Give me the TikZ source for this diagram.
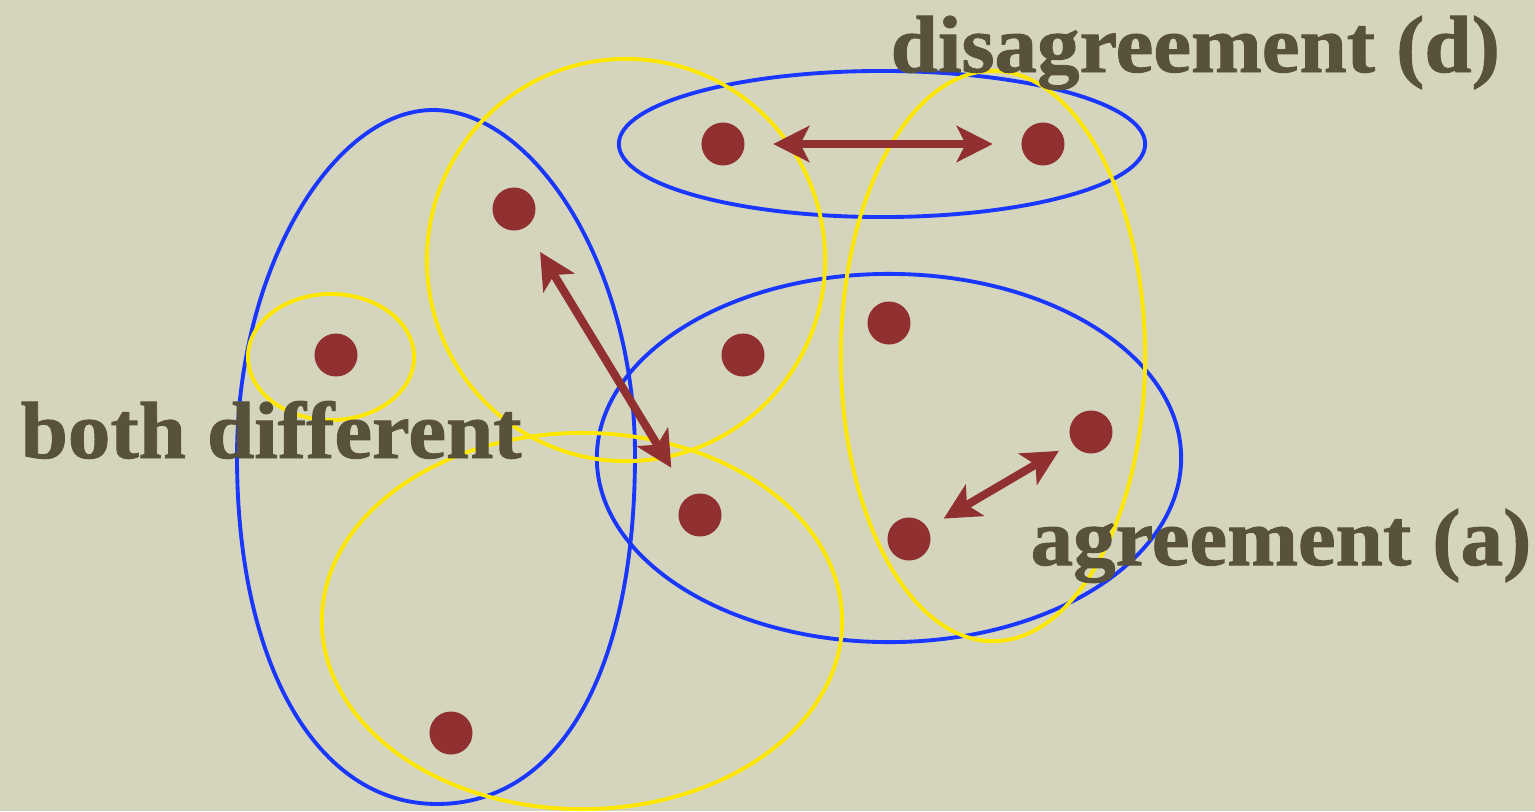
\documentclass[tikz,border=0pt]{standalone}
\usepackage{fontspec}
\newfontfamily\setfont[FakeStretch=1.05, BoldFeatures={FakeBold=1.2}]{Liberation Serif}
\usetikzlibrary{arrows.meta}
\definecolor{paper}{RGB}{213,213,189}
\definecolor{dotred}{RGB}{145,48,48}
\definecolor{setblue}{RGB}{25,55,255}
\definecolor{setyellow}{RGB}{255,232,0}
\definecolor{labelink}{RGB}{88,82,60}
\tikzset{
    point/.style={
        circle,
        fill=dotred,
        minimum size=0.43cm,
        inner sep=0pt
    },
    blueset/.style={draw=setblue, line width=1.1pt},
    yellowset/.style={draw=setyellow, line width=1.1pt},
    pair/.style={
        {Stealth[length=0.36cm, width=0.36cm, inset=0.09cm]}-{Stealth[length=0.36cm, width=0.36cm, inset=0.09cm]},
        color=dotred,
        line width=2.3pt
    },
    caption/.style={
        font=\setfont\bfseries\fontsize{23}{27}\selectfont,
        text=labelink,
        inner sep=0pt,
        anchor=base west
    }
}

\begin{document}
\begin{tikzpicture}[x=0.01cm, y=-0.01cm]
            % Paper :
            \fill [paper] (0,0) rectangle (1535,811);
            \useasboundingbox (0,0) rectangle (1535,811);

            % Blue sets
            \draw [blueset] (882,144) ellipse [x radius=2.63cm, y radius=0.73cm];
            \draw [blueset] (889,458) ellipse [x radius=2.92cm, y radius=1.84cm];
            \draw [blueset] (433,110)
                .. controls (533,110) and (635,265) .. (635,455)
                .. controls (635,671) and (560,804) .. (437,804)
                .. controls (317,804) and (237,665) .. (237,457)
                .. controls (237,266) and (335,110) .. (433,110) -- cycle;

            % Yellow sets
            \draw [yellowset] (331,357) ellipse [x radius=0.83cm, y radius=0.63cm];
            \draw [yellowset] (626,260) ellipse [x radius=1.99cm, y radius=2.01cm];
            \draw [yellowset] (993,356) ellipse [x radius=1.52cm, y radius=2.85cm];
            \draw [yellowset] (582,621) ellipse [x radius=2.60cm, y radius=1.88cm];

            % Points
            \node (pDisL) [point] at (723,144) {};
            \node (pDisR) [point] at (1043,144) {};
            \node (pBothT) [point] at (514,209) {};
            \node (pLone) [point] at (336,355) {};
            \node (pMid) [point] at (743,355) {};
            \node (pUpper) [point] at (889,323) {};
            \node (pAgrR) [point] at (1091,432) {};
            \node (pBothB) [point] at (700,515) {};
            \node (pAgrL) [point] at (909,539) {};
            \node (pLow) [point] at (451,733) {};

            % Compared pairs
            \draw [pair, shorten <=0.28cm, shorten >=0.28cm] (pDisL) -- (pDisR);
            \draw [pair, shorten <=0.28cm, shorten >=0.33cm] (pBothT) -- (pBothB);
            \draw [pair, shorten <=0.18cm, shorten >=0.15cm] (pAgrL) -- (pAgrR);

            % Labels
            \node (disLabel) [caption] at (890,72) {disagreement (d)};
            \node (bothLabel) [caption] at (20,458) {both different};
            \node (agrLabel) [caption] at (1030,565) {agreement (a)};
        \end{tikzpicture}
\end{document}
